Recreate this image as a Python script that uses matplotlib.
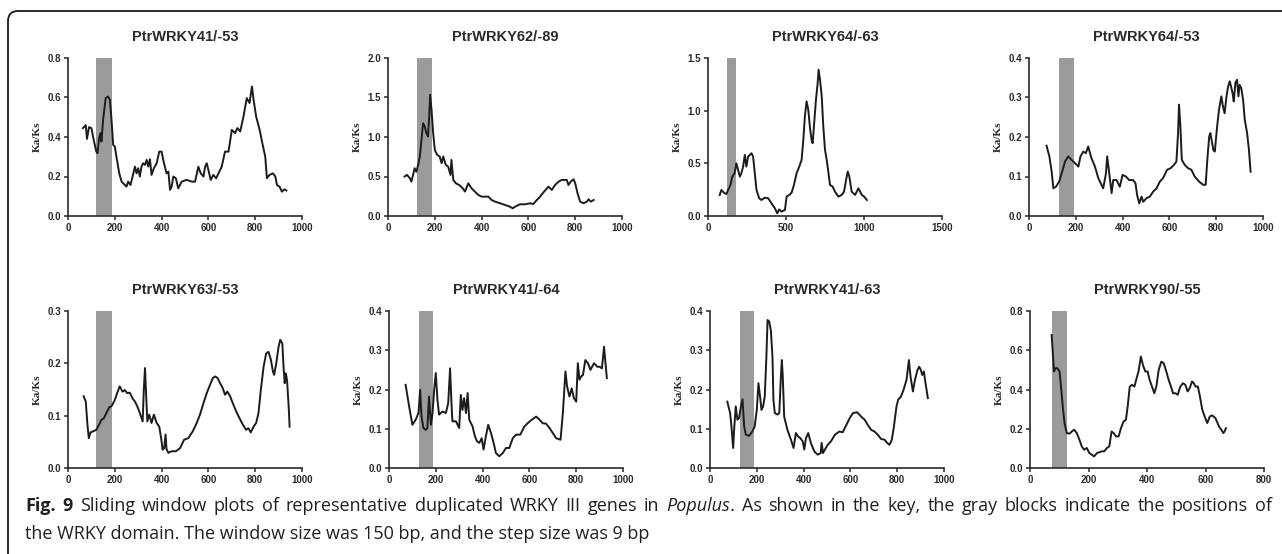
import matplotlib
matplotlib.use("Agg")
import matplotlib.pyplot as plt
from matplotlib.path import Path
from matplotlib.patches import PathPatch
import numpy as np

# Sliding window Ka/Ks values (x = position in bp)
titles = ["PtrWRKY41/-53", "PtrWRKY62/-89", "PtrWRKY64/-63", "PtrWRKY64/-53",
          "PtrWRKY63/-53", "PtrWRKY41/-64", "PtrWRKY41/-63", "PtrWRKY90/-55"]

x_41_53 = [64, 76, 81, 90, 100, 110, 121, 126, 133, 139, 143, 150, 161, 171, 179, 186, 193, 200, 207, 219,
           229, 243, 250, 257, 267, 276, 286, 293, 300, 307, 314, 321, 329, 336, 343, 350, 357, 367, 379, 390,
           400, 407, 414, 421, 429, 436, 443, 450, 461, 471, 486, 507, 529, 543, 557, 567, 579, 586, 593, 600,
           610, 621, 633, 643, 657, 671, 686, 700, 714, 724, 736, 750, 764, 776, 786, 793, 804, 819, 829, 843,
           850, 861, 876, 886, 893, 904, 914, 924, 933]
y_41_53 = [0.445, 0.46, 0.39, 0.45, 0.445, 0.385, 0.326, 0.318, 0.394, 0.42, 0.377, 0.487, 0.597, 0.605, 0.589,
           0.487, 0.36, 0.352, 0.30, 0.216, 0.174, 0.157, 0.149, 0.174, 0.157, 0.20, 0.25, 0.216, 0.242, 0.20,
           0.25, 0.267, 0.259, 0.284, 0.25, 0.288, 0.208, 0.242, 0.267, 0.326, 0.326, 0.284, 0.25, 0.216, 0.225,
           0.132, 0.149, 0.20, 0.191, 0.14, 0.174, 0.183, 0.174, 0.174, 0.25, 0.216, 0.20, 0.25, 0.267, 0.233,
           0.183, 0.208, 0.191, 0.216, 0.25, 0.326, 0.326, 0.436, 0.42, 0.445, 0.428, 0.504, 0.597, 0.572, 0.656,
           0.589, 0.504, 0.436, 0.377, 0.30, 0.191, 0.208, 0.216, 0.20, 0.157, 0.149, 0.123, 0.135, 0.129]

x_62_89 = [71, 81, 93, 100, 107, 114, 121, 129, 136, 143, 150, 157, 164, 171, 176, 180, 186, 193, 200, 210,
           221, 229, 236, 247, 257, 267, 271, 279, 290, 304, 319, 329, 343, 357, 371, 386, 400, 414, 429, 443,
           457, 479, 500, 521, 533, 543, 564, 586, 607, 621, 636, 650, 667, 686, 700, 714, 729, 743, 764, 771,
           781, 793, 800, 810, 821, 836, 850, 857, 867, 879]
y_62_89 = [0.50, 0.52, 0.48, 0.435, 0.52, 0.605, 0.56, 0.647, 0.753, 0.964, 1.175, 1.133, 1.049, 1.006, 1.26,
           1.535, 1.345, 1.049, 0.837, 0.774, 0.753, 0.668, 0.753, 0.647, 0.626, 0.52, 0.71, 0.457, 0.414, 0.393,
           0.351, 0.309, 0.414, 0.351, 0.309, 0.266, 0.245, 0.245, 0.245, 0.203, 0.182, 0.161, 0.14, 0.118, 0.097,
           0.118, 0.148, 0.148, 0.161, 0.152, 0.203, 0.245, 0.309, 0.372, 0.33, 0.393, 0.435, 0.457, 0.457, 0.393,
           0.435, 0.465, 0.414, 0.288, 0.182, 0.161, 0.182, 0.211, 0.182, 0.203]

x_64_63 = [75, 86, 96, 107, 118, 129, 144, 156, 171, 182, 193, 204, 214, 225, 236, 246, 257, 268, 279, 289,
           300, 311, 328, 343, 364, 386, 407, 429, 444, 456, 471, 493, 504, 521, 536, 551, 568, 585, 600, 611,
           621, 632, 643, 654, 664, 671, 679, 692, 703, 709, 718, 729, 739, 750, 761, 771, 782, 799, 814, 836,
           857, 872, 885, 896, 906, 921, 943, 964, 986, 1001, 1018]
y_64_63 = [0.20, 0.247, 0.23, 0.216, 0.209, 0.247, 0.295, 0.374, 0.406, 0.50, 0.437, 0.374, 0.406, 0.469, 0.58,
           0.469, 0.564, 0.58, 0.596, 0.564, 0.406, 0.247, 0.168, 0.152, 0.174, 0.168, 0.12, 0.073, 0.025, 0.063,
           0.041, 0.057, 0.184, 0.20, 0.222, 0.295, 0.406, 0.469, 0.533, 0.723, 0.945, 1.088, 1.008, 0.834, 0.723,
           0.691, 0.85, 1.104, 1.262, 1.389, 1.294, 1.135, 0.85, 0.628, 0.533, 0.422, 0.295, 0.279, 0.231, 0.184,
           0.20, 0.231, 0.342, 0.422, 0.374, 0.231, 0.20, 0.263, 0.20, 0.184, 0.152]

x_64_53 = [75, 87, 97, 104, 115, 129, 144, 154, 168, 182, 196, 211, 220, 232, 243, 253, 267, 282, 296, 317,
           329, 334, 343, 353, 360, 374, 388, 400, 414, 428, 445, 455, 462, 471, 481, 488, 502, 516, 531, 545,
           559, 573, 590, 605, 619, 630, 637, 641, 647, 653, 666, 680, 694, 708, 727, 744, 755, 762, 770, 775,
           788, 794, 804, 812, 822, 829, 836, 844, 851, 858, 870, 875, 882, 889, 895, 900, 907, 915, 922, 932,
           940, 947]
y_64_53 = [0.178, 0.151, 0.112, 0.07, 0.074, 0.087, 0.117, 0.138, 0.151, 0.142, 0.134, 0.125, 0.151, 0.163, 0.159,
           0.176, 0.146, 0.125, 0.096, 0.07, 0.108, 0.151, 0.108, 0.058, 0.091, 0.091, 0.074, 0.104, 0.10, 0.091,
           0.091, 0.083, 0.053, 0.032, 0.049, 0.036, 0.045, 0.049, 0.062, 0.07, 0.087, 0.096, 0.117, 0.121, 0.129,
           0.138, 0.21, 0.282, 0.227, 0.142, 0.129, 0.121, 0.117, 0.10, 0.087, 0.079, 0.079, 0.142, 0.201, 0.21,
           0.167, 0.163, 0.227, 0.269, 0.303, 0.277, 0.26, 0.303, 0.328, 0.341, 0.311, 0.29, 0.337, 0.345, 0.303,
           0.332, 0.324, 0.294, 0.244, 0.21, 0.167, 0.112]

x_63_53 = [67, 76, 83, 89, 96, 107, 121, 133, 143, 153, 164, 176, 186, 200, 210, 221, 233, 243, 253, 264,
           276, 286, 296, 307, 319, 324, 329, 333, 339, 347, 357, 367, 379, 390, 399, 404, 411, 417, 421, 429,
           443, 461, 479, 496, 514, 533, 550, 564, 579, 593, 607, 619, 629, 639, 650, 661, 671, 681, 693, 704,
           719, 733, 747, 761, 771, 781, 793, 804, 814, 824, 836, 847, 857, 867, 876, 881, 890, 900, 907, 916,
           921, 926, 931, 936, 943, 947]
y_63_53 = [0.137, 0.127, 0.083, 0.057, 0.068, 0.07, 0.073, 0.083, 0.092, 0.095, 0.105, 0.116, 0.118, 0.13, 0.143,
           0.156, 0.146, 0.149, 0.143, 0.144, 0.133, 0.127, 0.118, 0.105, 0.089, 0.149, 0.191, 0.149, 0.089, 0.102,
           0.086, 0.102, 0.086, 0.079, 0.054, 0.035, 0.038, 0.064, 0.036, 0.029, 0.032, 0.032, 0.038, 0.054, 0.057,
           0.07, 0.086, 0.102, 0.124, 0.143, 0.159, 0.172, 0.175, 0.172, 0.162, 0.153, 0.14, 0.146, 0.137, 0.124,
           0.108, 0.095, 0.083, 0.073, 0.076, 0.068, 0.079, 0.086, 0.105, 0.149, 0.194, 0.219, 0.222, 0.207, 0.184,
           0.178, 0.2, 0.232, 0.245, 0.238, 0.194, 0.162, 0.181, 0.168, 0.118, 0.079]

x_41_64 = [71, 86, 100, 114, 126, 133, 139, 147, 157, 164, 171, 179, 186, 193, 200, 207, 214, 229, 243, 253,
           261, 267, 271, 286, 300, 307, 314, 321, 329, 336, 343, 357, 367, 376, 386, 396, 404, 414, 424, 436,
           447, 457, 471, 486, 500, 514, 529, 543, 561, 579, 596, 610, 629, 643, 657, 671, 686, 700, 714, 733,
           743, 754, 761, 771, 781, 790, 800, 807, 814, 821, 829, 839, 850, 861, 876, 890, 900, 910, 919, 924,
           931]
y_41_64 = [0.212, 0.157, 0.11, 0.123, 0.14, 0.199, 0.131, 0.102, 0.097, 0.102, 0.182, 0.11, 0.14, 0.199, 0.242,
           0.174, 0.136, 0.144, 0.14, 0.165, 0.254, 0.165, 0.119, 0.119, 0.102, 0.186, 0.148, 0.178, 0.14, 0.191,
           0.123, 0.106, 0.081, 0.068, 0.064, 0.076, 0.047, 0.081, 0.11, 0.089, 0.064, 0.038, 0.03, 0.038, 0.051,
           0.051, 0.076, 0.085, 0.085, 0.106, 0.116, 0.123, 0.131, 0.123, 0.114, 0.113, 0.102, 0.089, 0.076, 0.072,
           0.14, 0.246, 0.208, 0.182, 0.203, 0.178, 0.169, 0.267, 0.225, 0.233, 0.237, 0.275, 0.267, 0.25, 0.267,
           0.258, 0.258, 0.254, 0.309, 0.275, 0.229]

x_41_63 = [74, 86, 91, 99, 103, 110, 117, 124, 131, 139, 146, 153, 167, 181, 191, 200, 207, 214, 220, 227,
           234, 241, 246, 253, 260, 267, 271, 277, 289, 296, 303, 307, 311, 317, 331, 346, 357, 367, 377, 386,
           396, 403, 410, 420, 431, 446, 460, 473, 477, 483, 491, 503, 517, 534, 553, 567, 583, 597, 611, 629,
           646, 661, 674, 689, 703, 717, 731, 746, 757, 767, 777, 786, 797, 804, 816, 827, 840, 850, 857, 867,
           876, 887, 894, 901, 907, 914, 921, 931]
y_41_63 = [0.169, 0.14, 0.11, 0.051, 0.097, 0.157, 0.123, 0.127, 0.153, 0.175, 0.106, 0.085, 0.082, 0.093, 0.106,
           0.148, 0.216, 0.182, 0.148, 0.157, 0.182, 0.284, 0.377, 0.373, 0.351, 0.284, 0.174, 0.14, 0.136, 0.14,
           0.233, 0.275, 0.233, 0.131, 0.097, 0.072, 0.051, 0.089, 0.08, 0.076, 0.068, 0.047, 0.076, 0.089, 0.064,
           0.042, 0.034, 0.038, 0.064, 0.038, 0.047, 0.059, 0.068, 0.085, 0.093, 0.091, 0.11, 0.127, 0.14, 0.142,
           0.131, 0.123, 0.11, 0.097, 0.093, 0.085, 0.074, 0.072, 0.064, 0.059, 0.072, 0.106, 0.157, 0.174, 0.182,
           0.199, 0.225, 0.275, 0.233, 0.195, 0.225, 0.25, 0.258, 0.25, 0.237, 0.246, 0.216, 0.178]

x_90_55 = [74, 78, 82, 87, 94, 101, 106, 112, 118, 126, 135, 143, 151, 160, 169, 177, 185, 194, 203, 211,
           219, 229, 238, 246, 254, 263, 271, 279, 286, 294, 303, 311, 320, 328, 334, 341, 349, 357, 363, 371,
           379, 386, 394, 402, 409, 417, 425, 432, 440, 449, 457, 466, 474, 482, 489, 497, 505, 514, 523, 531,
           539, 546, 554, 560, 566, 574, 581, 589, 597, 606, 615, 623, 634, 646, 654, 661, 665, 670]
y_90_55 = [0.678, 0.585, 0.492, 0.508, 0.508, 0.492, 0.415, 0.314, 0.229, 0.178, 0.175, 0.186, 0.195, 0.178, 0.144,
           0.11, 0.093, 0.102, 0.076, 0.068, 0.059, 0.076, 0.081, 0.085, 0.085, 0.102, 0.11, 0.186, 0.178, 0.161,
           0.161, 0.203, 0.237, 0.246, 0.314, 0.415, 0.424, 0.415, 0.449, 0.492, 0.568, 0.525, 0.492, 0.492, 0.449,
           0.415, 0.381, 0.415, 0.5, 0.542, 0.534, 0.492, 0.449, 0.415, 0.381, 0.381, 0.373, 0.415, 0.432, 0.424,
           0.39, 0.407, 0.441, 0.432, 0.415, 0.415, 0.364, 0.297, 0.263, 0.229, 0.263, 0.268, 0.254, 0.212, 0.195,
           0.178, 0.186, 0.203]

xs = [x_41_53, x_62_89, x_64_63, x_64_53, x_63_53, x_41_64, x_41_63, x_90_55]
ys = [y_41_53, y_62_89, y_64_63, y_64_53, y_63_53, y_41_64, y_41_63, y_90_55]

# WRKY domain (gray block) start / end in bp
domains = [(121, 186), (126, 190), (122, 182), (129, 193), (121, 189), (129, 190), (129, 189), (74, 126)]

# axis ranges: (max, step)
y_axes = [(0.8, 0.2), (2.0, 0.5), (1.5, 0.5), (0.4, 0.1), (0.3, 0.1), (0.4, 0.1), (0.4, 0.1), (0.8, 0.2)]
x_axes = [(1000, 200), (1000, 200), (1500, 500), (1000, 200), (1000, 200), (1000, 200), (1000, 200), (800, 200)]

W, H = 1282, 554
fig = plt.figure(figsize=(W / 100, H / 100), dpi=100)

# axes boxes in pixels: left, top, bottom
lefts = [68, 388, 708, 1029, 68, 389, 710, 1030]
AX_W = 234
rows = [(58, 216), (311, 468)]

for i in range(8):
    top, bottom = rows[i // 4]
    ax = fig.add_axes([lefts[i] / W, 1 - bottom / H, AX_W / W, (bottom - top) / H])
    ymax, ystep = y_axes[i]
    xmax, xstep = x_axes[i]

    # gray block for the WRKY domain
    ax.axvspan(domains[i][0], domains[i][1], 0, 1, color="#9b9b9b", lw=0, zorder=1)
    ax.plot(xs[i], ys[i], color="#1c1c1c", lw=1.4, zorder=3)

    ax.set_xlim(0, xmax)
    ax.set_ylim(0, ymax)
    ax.set_xticks(np.arange(0, xmax + 1, xstep))
    ax.set_yticks(np.arange(0, ymax + ystep / 2, ystep))
    ax.set_yticklabels([f"{v:.1f}" for v in np.arange(0, ymax + ystep / 2, ystep)])

    for side in ("top", "right"):
        ax.spines[side].set_visible(False)
    for side in ("left", "bottom"):
        ax.spines[side].set_linewidth(1.2)
        ax.spines[side].set_color("#2a2a2a")
    ax.tick_params(direction="out", length=3, width=1.1, color="#2a2a2a", pad=2,
                   labelsize=7, labelcolor="#2a2a2a")
    for lab in ax.get_xticklabels() + ax.get_yticklabels():
        lab.set_fontfamily("Liberation Sans")
        lab.set_fontweight("bold")

    ax.set_title(titles[i], fontsize=10.5, fontweight="bold", family="Liberation Sans",
                 color="#2a2a2a", pad=12)
    ax.set_ylabel("Ka/Ks", fontsize=8, fontweight="bold", family="Liberation Serif",
                  color="#2a2a2a", labelpad=4)

# frame with rounded top-left corner
r = 10
verts = [(8 / W, 0), (8 / W, 1 - (11 + r) / H), (8 / W, 1 - 11 / H), ((8 + r) / W, 1 - 11 / H), (1, 1 - 11 / H)]
codes = [Path.MOVETO, Path.LINETO, Path.CURVE3, Path.CURVE3, Path.LINETO]
fig.patches.append(PathPatch(Path(verts, codes), fill=False, lw=1.3, ec="#1a1a1a",
                             transform=fig.transFigure, figure=fig))

# caption: first line is justified, so its words are placed one by one
renderer = fig.canvas.get_renderer()
cap_color = "#231f20"
cap_size = 13
cap_font = "Open Sans"
BOLD = {"fontweight": "bold"}
ITAL = {"fontstyle": "italic"}


def make_words(line, style=None):
    return [(w, style or {}, True) for w in line.split()]


def put_justified(words, x0, x1, y):
    # words: (text, style, space_before); gaps are stretched to fill x0..x1
    items = []
    for s, style, sp in words:
        t = fig.text(0, 1 - y / H, s, fontsize=cap_size, family=cap_font, color=cap_color, **style)
        items.append((t, t.get_window_extent(renderer).width, sp))
    n_gaps = sum(1 for k, it in enumerate(items) if k > 0 and it[2])
    gap = (x1 - x0 - sum(it[1] for it in items)) / n_gaps
    x = x0
    for k, (t, w, sp) in enumerate(items):
        if k > 0 and sp:
            x += gap
        t.set_x(x / W)
        x += w


line1 = (make_words("Fig. 9", BOLD)
         + make_words("Sliding window plots of representative duplicated WRKY III genes in")
         + make_words("Populus", ITAL)
         + [(".", {}, False)]
         + make_words("As shown in the key, the gray blocks indicate the positions of"))
line2 = "the WRKY domain. The window size was 150 bp, and the step size was 9 bp"

put_justified(line1, 25, 1272, 511)
fig.text(25 / W, 1 - 539 / H, line2, fontsize=cap_size, family=cap_font, color=cap_color)

plt.savefig("out.png", dpi=100)
